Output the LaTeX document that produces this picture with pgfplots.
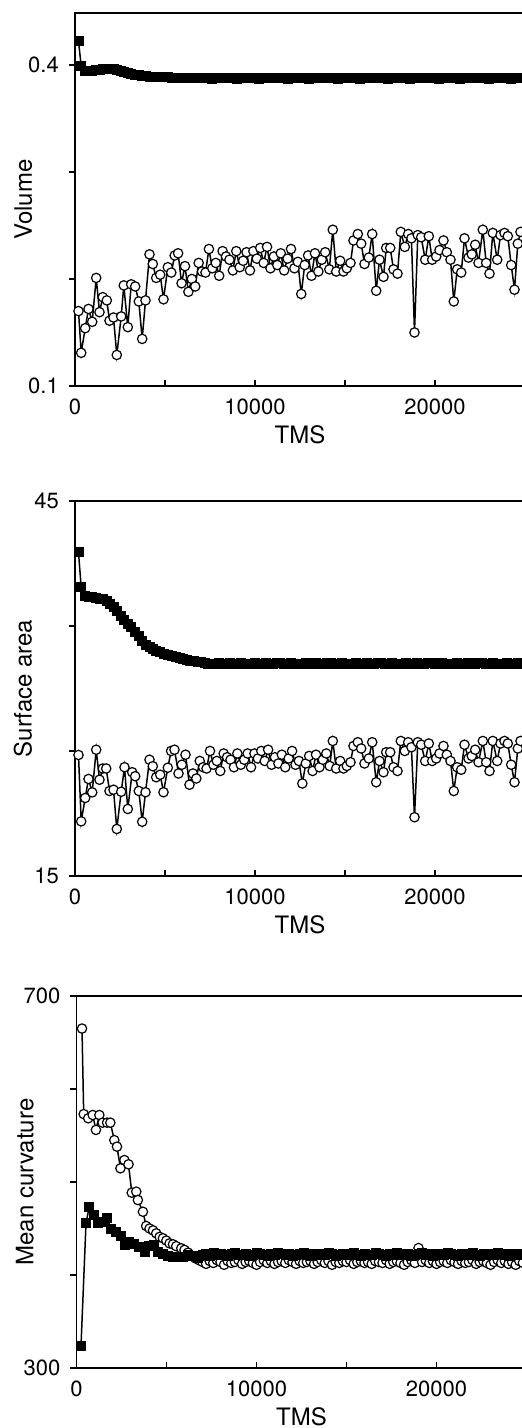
\documentclass[border=0pt]{standalone}
\usepackage{fontspec}
\setmainfont{TeX Gyre Heros}
\usepackage{pgfplots}
\pgfplotsset{compat=1.18}
\pgfplotsset{
 myax/.style={
  scale only axis, width=225pt, xmin=0, xmax=25000, clip=false,
  axis line style={draw=none},
  tick align=outside, major tick length=3pt,
  tick style={black, line width=0.6pt},
  x tick style={yshift=3pt},
  xtick={0,5000,10000,15000,20000,25000},
  xticklabels={0,,10000,,20000,},
  tick pos=left,
  /pgf/number format/assume math mode=true,
  tick label style={font=\fontsize{11}{13}\selectfont},
  yticklabel style={xshift=-1.6pt},
  label style={font=\fontsize{12}{14}\selectfont},
  xlabel={TMS},
  xlabel style={at={(axis description cs:0.5,0)}, anchor=north, inner sep=0pt, yshift=-19.5pt},
  ylabel style={at={(axis description cs:-0.0944,0.5)}, anchor=south, inner sep=0pt},
  scaled x ticks=false,
 },
 circ/.style={black, line width=0.75pt, mark=*, mark size=2.35pt, mark options={fill=white, draw=black, line width=0.6pt}},
 sq/.style={black, line width=0.75pt, mark=square*, mark size=2.25pt, mark options={fill=black, draw=black, line width=0.3pt}},
}
\begin{document}
\begin{tikzpicture}
\useasboundingbox (0,0) rectangle (261pt,714pt);
\clip (0,0) rectangle (261pt,714pt);
% ---------------- Panel 1: Volume
\begin{axis}[myax, at={(37.5pt,521pt)}, anchor=south west, height=186.5pt,
  ymin=0.1, ymax=0.4486, ytick={0.1,0.2,0.3,0.4}, yticklabels={0.1,,,0.4}, ylabel={Volume}]
\addplot[circ] table[row sep=\\]{
194 0.170\\344 0.131\\567 0.154\\750 0.172\\955 0.160\\1178 0.201\\1361 0.169\\1544 0.183\\1767 0.180\\1917 0.161\\
2139 0.164\\2322 0.129\\2567 0.165\\2711 0.194\\2933 0.155\\3122 0.195\\3344 0.193\\3544 0.179\\3733 0.144\\3917 0.180\\
4139 0.223\\4322 0.214\\4511 0.201\\4733 0.204\\4917 0.181\\5156 0.211\\
5350 0.206\\5540 0.222\\5730 0.224\\5920 0.196\\6110 0.212\\6300 0.188\\6490 0.200\\6680 0.193\\6870 0.215\\7060 0.207\\
7250 0.206\\7440 0.228\\7630 0.210\\7820 0.215\\8010 0.203\\8200 0.226\\8390 0.221\\8580 0.218\\8770 0.208\\8960 0.226\\
9150 0.211\\9340 0.217\\9530 0.225\\9720 0.208\\9910 0.226\\10100 0.219\\10290 0.229\\10480 0.215\\10670 0.230\\10860 0.210\\
11050 0.221\\11240 0.213\\11430 0.224\\11620 0.208\\11810 0.219\\12000 0.228\\12190 0.210\\12380 0.216\\12570 0.186\\12760 0.213\\
12950 0.222\\13140 0.203\\13330 0.224\\13520 0.207\\13710 0.218\\13900 0.225\\14130 0.209\\
14322 0.246\\14511 0.207\\14733 0.217\\14917 0.207\\15100 0.210\\15306 0.215\\15472 0.236\\15711 0.242\\15900 0.233\\16083 0.214\\
16322 0.220\\16511 0.242\\16733 0.189\\16917 0.218\\17139 0.202\\17289 0.229\\17511 0.229\\17694 0.209\\17917 0.205\\18100 0.244\\
18322 0.230\\18511 0.242\\18690 0.238\\18861 0.150\\19044 0.241\\19233 0.239\\19456 0.218\\19656 0.240\\19844 0.218\\20067 0.221\\
20250 0.227\\20472 0.236\\20656 0.225\\20861 0.218\\21044 0.179\\21233 0.209\\21456 0.206\\21639 0.238\\21861 0.220\\22044 0.223\\
22233 0.232\\22417 0.215\\22656 0.246\\22844 0.215\\23028 0.205\\23211 0.243\\23456 0.218\\23639 0.241\\23861 0.243\\24044 0.240\\
24233 0.213\\24417 0.190\\24600 0.233\\24750 0.244\\
};
\addplot[sq] table[row sep=\\]{
194 0.4224\\344 0.3990\\567 0.3950\\750 0.3948\\955 0.3950\\1178 0.3953\\1361 0.3956\\1544 0.3962\\1767 0.3968\\1917 0.3968\\
2139 0.3963\\2322 0.3956\\2567 0.3948\\2711 0.3940\\2933 0.3930\\3122 0.3920\\3344 0.3912\\3544 0.3906\\3733 0.3901\\3917 0.3897\\
4139 0.3894\\4322 0.3892\\4511 0.3890\\4733 0.3888\\4917 0.3886\\5156 0.3885\\5400 0.3884\\5600 0.3883\\5800 0.3882\\6000 0.3881\\
6200 0.3880\\6400 0.3879\\6600 0.3878\\
6800 .3877\\7000 .3876\\7200 .3878\\7400 .3877\\7600 .3875\\7800 .3878\\8000 .3876\\8200 .3877\\8400 .3879\\8600 .3876\\
8800 .3877\\9000 .3875\\9200 .3878\\9400 .3877\\9600 .3876\\9800 .3878\\10000 .3877\\10200 .3875\\10400 .3877\\10600 .3878\\
10800 .3876\\11000 .3877\\11200 .3879\\11400 .3876\\11600 .3877\\11800 .3875\\12000 .3878\\12200 .3877\\12400 .3876\\12600 .3878\\
12800 .3877\\13000 .3875\\13200 .3877\\13400 .3878\\13600 .3876\\13800 .3877\\14000 .3879\\14200 .3876\\14400 .3877\\14600 .3875\\
14800 .3878\\15000 .3877\\15200 .3876\\15400 .3878\\15600 .3877\\15800 .3875\\16000 .3877\\16200 .3878\\16400 .3876\\16600 .3877\\
16800 .3879\\17000 .3876\\17200 .3877\\17400 .3875\\17600 .3878\\17800 .3877\\18000 .3876\\18200 .3878\\18400 .3877\\18600 .3875\\
18800 .3877\\19000 .3878\\19200 .3876\\19400 .3877\\19600 .3879\\19800 .3876\\20000 .3877\\20200 .3875\\20400 .3878\\20600 .3877\\
20800 .3876\\21000 .3878\\21200 .3877\\21400 .3875\\21600 .3877\\21800 .3878\\22000 .3876\\22200 .3877\\22400 .3879\\22600 .3876\\
22800 .3877\\23000 .3875\\23200 .3878\\23400 .3877\\23600 .3876\\23800 .3878\\24000 .3877\\24200 .3875\\24400 .3877\\24600 .3878\\24800 .3876\\
};
\draw[line width=0.65pt] (rel axis cs:0,0) -- (rel axis cs:0,1) -- (rel axis cs:1,1);
\draw[line width=1pt] (rel axis cs:0,0) -- (rel axis cs:1,0);
\end{axis}
% ---------------- Panel 2: Surface area
\begin{axis}[myax, at={(37.5pt,276pt)}, anchor=south west, height=187.5pt,
  ymin=15, ymax=45, ytick={15,25,35,45}, yticklabels={15,,,45}, ylabel={Surface area}]
\addplot[circ] table[row sep=\\]{
194 24.68\\344 19.37\\567 21.24\\750 22.76\\956 21.69\\1178 25.1\\1361 22.7\\1544 23.6\\1733 23.6\\1917 21.8\\
2139 21.9\\2322 18.76\\2567 21.74\\2750 23.7\\2933 20.36\\3178 23.3\\3344 22.98\\3544 21.8\\3733 19.34\\3917 21.7\\
4139 24.3\\4322 23.78\\4511 22.9\\4733 23.1\\4917 21.7\\5156 23.66\\5340 25.0\\5528 25.1\\5750 23.2\\5933 23.9\\
6139 24.7\\6361 22.3\\6550 23.2\\6740 22.8\\6930 24.2\\7120 23.7\\7310 23.6\\7500 25.0\\7690 23.9\\7880 24.2\\
8070 23.4\\8260 24.8\\8450 24.5\\8640 24.3\\8830 23.7\\9020 24.8\\9210 23.9\\9400 24.3\\9590 24.8\\9780 23.7\\
9970 24.8\\10160 24.4\\10350 25.0\\10540 24.2\\10730 25.1\\10920 23.9\\11110 24.5\\11300 24.0\\11490 24.7\\11680 23.7\\
11870 24.4\\12060 25.0\\12250 23.9\\12440 24.2\\12630 22.4\\12820 24.0\\13010 24.6\\13200 23.4\\13390 24.7\\13580 23.7\\
13770 24.3\\13960 24.8\\14150 23.8\\
14322 25.8\\14511 23.6\\14733 24.2\\14917 23.6\\15100 23.8\\15306 24.1\\15472 25.4\\15711 25.7\\15900 25.2\\16083 24.0\\
16322 24.4\\16511 25.7\\16733 22.5\\16917 24.2\\17139 23.3\\17289 24.9\\17511 24.9\\17694 23.7\\17917 23.4\\18100 25.8\\
18322 25.0\\18511 25.7\\18690 25.3\\18861 19.7\\19044 25.7\\19233 25.5\\19456 24.2\\19656 25.6\\19844 24.2\\20067 24.4\\
20250 24.8\\20472 25.4\\20656 24.7\\20861 24.2\\21044 21.8\\21233 23.7\\21456 23.5\\21639 25.5\\21861 24.4\\22044 24.6\\
22233 25.1\\22417 24.1\\22656 25.8\\22844 24.1\\23028 23.4\\23211 25.8\\23456 24.2\\23639 25.6\\23861 25.8\\24044 25.6\\
24233 23.9\\24417 22.5\\24600 25.2\\24750 25.8\\
};
\addplot[sq] table[row sep=\\]{
194 40.9\\344 38.1\\567 37.4\\750 37.3\\955 37.3\\1178 37.25\\1361 37.2\\1544 37.15\\1767 37.0\\1917 36.8\\
2139 36.5\\2322 36.2\\2567 35.8\\2711 35.5\\2933 35.2\\3122 34.9\\3344 34.5\\3544 34.2\\3733 33.8\\3917 33.5\\
4139 33.3\\4322 33.2\\4511 33.0\\4733 32.9\\4917 32.8\\5156 32.7\\5400 32.6\\5600 32.5\\5800 32.45\\6000 32.4\\
6200 32.3\\6400 32.25\\6600 32.2\\6800 32.15\\7000 32.1\\7200 32.05\\7400 32.0\\
7600 32.00\\7800 31.96\\8000 32.04\\8200 32.00\\8400 31.95\\8600 32.03\\8800 31.98\\9000 32.01\\9200 32.05\\9400 31.97\\
9600 32.00\\9800 31.95\\10000 32.03\\10200 32.00\\10400 31.97\\10600 32.04\\10800 32.00\\11000 31.95\\11200 32.02\\11400 32.05\\
11600 31.98\\11800 32.00\\12000 32.04\\12200 31.96\\12400 32.00\\12600 31.95\\12800 32.03\\13000 32.00\\13200 31.97\\13400 32.04\\
13600 32.00\\13800 31.95\\14000 32.02\\14200 32.05\\14400 31.98\\14600 32.00\\14800 32.04\\15000 31.96\\15200 32.00\\15400 31.95\\
15600 32.03\\15800 32.00\\16000 31.97\\16200 32.04\\16400 32.00\\16600 31.95\\16800 32.02\\17000 32.05\\17200 31.98\\17400 32.00\\
17600 32.04\\17800 31.96\\18000 32.00\\18200 31.95\\18400 32.03\\18600 32.00\\18800 31.97\\19000 32.04\\19200 32.00\\19400 31.95\\
19600 32.02\\19800 32.05\\20000 31.98\\20200 32.00\\20400 32.04\\20600 31.96\\20800 32.00\\21000 31.95\\21200 32.03\\21400 32.00\\
21600 31.97\\21800 32.04\\22000 32.00\\22200 31.95\\22400 32.02\\22600 32.05\\22800 31.98\\23000 32.00\\23200 32.04\\23400 31.96\\
23600 32.00\\23800 31.95\\24000 32.03\\24200 32.00\\24400 31.97\\24600 32.04\\24800 32.00\\
};
\draw[line width=0.65pt] (rel axis cs:0,0) -- (rel axis cs:0,1) -- (rel axis cs:1,1);
\draw[line width=1pt] (rel axis cs:0,0) -- (rel axis cs:1,0);
\end{axis}
% ---------------- Panel 3: Mean curvature
\begin{axis}[myax, at={(38.25pt,30pt)}, anchor=south west, height=186pt,
  ymin=300, ymax=700, ytick={300,400,500,600,700}, yticklabels={300,,,,700}, ylabel={Mean curvature}]
\addplot[circ] table[row sep=\\]{
306 665\\400 573\\650 568.5\\900 572\\1080 556\\1270 572\\1450 563.8\\1700 563.8\\1880 563.8\\2100 545\\
2250 538\\2440 514.7\\2660 523.6\\2890 519\\3070 488.5\\3320 489.6\\3410 480.6\\3690 468\\3870 452.7\\4060 450\\
4250 448\\4430 444.8\\4620 441\\4800 439.5\\4990 437\\5170 434\\5360 433\\5540 431\\5820 428.7\\6000 427\\
6200 424\\6400 421\\6600 418\\6800 416\\
7000 414\\7200 412\\7400 415\\7600 413\\7800 416\\8000 414\\8200 411\\8400 415\\8600 413\\8800 414\\
9000 416\\9200 412\\9400 414\\9600 415\\9800 413\\10000 411\\10200 414\\10400 416\\10600 413\\10800 415\\
11000 412\\11200 414\\11400 415\\11600 413\\11800 416\\12000 414\\12200 412\\12400 415\\12600 413\\12800 414\\
13000 415\\13200 412\\13400 414\\13600 416\\13800 413\\14000 415\\14200 411\\14400 414\\14600 413\\14800 415\\
15000 414\\15200 416\\15400 412\\15600 414\\15800 415\\16000 413\\16200 414\\16400 412\\16600 415\\16800 414\\
17000 413\\17200 416\\17400 412\\17600 414\\17800 415\\18000 413\\18200 411\\18400 414\\18600 416\\18800 413\\
19000 429\\19200 414\\19400 416\\19600 413\\19800 415\\20000 412\\20200 414\\20400 415\\20600 413\\20800 416\\
21000 414\\21200 412\\21400 415\\21600 413\\21800 414\\22000 416\\22200 412\\22400 414\\22600 415\\22800 413\\
23000 411\\23200 414\\23400 416\\23600 413\\23800 415\\24000 412\\24200 414\\24400 411\\24600 415\\24800 413\\
};
\addplot[sq] table[row sep=\\]{
250 323.7\\528 455.6\\711 473.5\\955 464.5\\1211 455.6\\1455 457.3\\1694 461.0\\1917 450.0\\2194 446.6\\2472 442.0\\
2694 432.0\\2933 435.8\\3211 434.0\\3456 430.0\\3767 425.0\\4011 431.0\\4267 432.0\\4511 425.0\\4789 423.0\\5067 420.4\\
5344 419.7\\5622 419.7\\5900 419.7\\6178 421.5\\6456 420.4\\6733 418.0\\
7000 422\\7200 423\\7400 421\\7600 424\\7800 422\\8000 423\\8200 422\\8400 421\\8600 423\\8800 424\\
9000 422\\9200 422\\9400 423\\9600 421\\9800 422\\10000 424\\10200 423\\10400 422\\10600 421\\10800 423\\
11000 422\\11200 424\\11400 423\\11600 422\\11800 423\\12000 421\\12200 422\\12400 423\\12600 424\\12800 422\\
13000 421\\13200 423\\13400 422\\13600 423\\13800 422\\14000 424\\14200 423\\14400 421\\14600 422\\14800 423\\
15000 422\\15200 423\\15400 424\\15600 422\\15800 421\\16000 423\\16200 422\\16400 422\\16600 424\\16800 423\\
17000 422\\17200 421\\17400 423\\17600 422\\17800 424\\18000 423\\18200 422\\18400 423\\18600 421\\18800 422\\
19000 423\\19200 424\\19400 422\\19600 423\\19800 421\\20000 422\\20200 423\\20400 422\\20600 424\\20800 423\\
21000 422\\21200 421\\21400 423\\21600 422\\21800 423\\22000 424\\22200 422\\22400 421\\22600 423\\22800 422\\
23000 423\\23200 422\\23400 424\\23600 423\\23800 422\\24000 421\\24200 423\\24400 422\\24600 423\\24800 422\\
};
\draw[line width=0.65pt] (rel axis cs:0,0) -- (rel axis cs:0,1) -- (rel axis cs:1,1);
\draw[line width=1pt] (rel axis cs:0,0) -- (rel axis cs:1,0);
\end{axis}
\end{tikzpicture}
\end{document}
